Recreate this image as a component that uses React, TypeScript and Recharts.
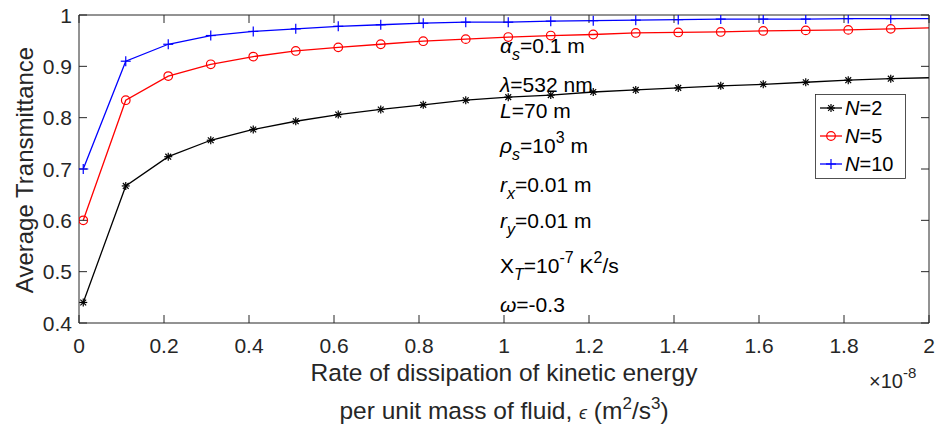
import { LineChart, Line, XAxis, YAxis, Legend } from 'recharts';

const AX = '#262626';

// rate of dissipation, x 1e-8 m^2/s^3
const epsilon = [
  0.01, 0.11, 0.21, 0.31, 0.41, 0.51, 0.61, 0.71, 0.81, 0.91, 1.01,
  1.11, 1.21, 1.31, 1.41, 1.51, 1.61, 1.71, 1.81, 1.91, 2.01,
];
const nTwo = [
  0.44, 0.667, 0.724, 0.756, 0.777, 0.793, 0.806, 0.816, 0.825, 0.834, 0.84,
  0.844, 0.85, 0.854, 0.858, 0.862, 0.865, 0.869, 0.873, 0.876, 0.878,
];
const nFive = [
  0.6, 0.834, 0.881, 0.904, 0.919, 0.93, 0.937, 0.943, 0.949, 0.953, 0.957,
  0.96, 0.962, 0.965, 0.966, 0.967, 0.969, 0.97, 0.971, 0.973, 0.975,
];
const nTen = [
  0.7, 0.91, 0.943, 0.96, 0.968, 0.973, 0.978, 0.981, 0.984, 0.986, 0.986,
  0.988, 0.989, 0.99, 0.991, 0.992, 0.992, 0.992, 0.993, 0.993, 0.993,
];
const xTicks = [0, 0.2, 0.4, 0.6, 0.8, 1, 1.2, 1.4, 1.6, 1.8, 2];
const yTicks = [0.4, 0.5, 0.6, 0.7, 0.8, 0.9, 1];

const data = epsilon.map((e, i) => ({ e, n2: nTwo[i], n5: nFive[i], n10: nTen[i] }));

const series = [
  { key: 'n2', label: '2', color: '#000000', marker: 'star' },
  { key: 'n5', label: '5', color: '#ff0000', marker: 'circle' },
  { key: 'n10', label: '10', color: '#0000ff', marker: 'plus' },
];

function Marker({ kind, cx, cy, color }: any) {
  if (kind === 'circle') {
    return <circle cx={cx} cy={cy} r={4.3} fill="none" stroke={color} strokeWidth={1.2} />;
  }
  if (kind === 'plus') {
    return (
      <g stroke={color} strokeWidth={1.2}>
        <line x1={cx - 5} x2={cx + 5} y1={cy} y2={cy} />
        <line x1={cx} x2={cx} y1={cy - 5} y2={cy + 5} />
      </g>
    );
  }
  const d = 4;
  const k = 2.9;
  return (
    <g stroke={color} strokeWidth={1.2}>
      <line x1={cx - d} x2={cx + d} y1={cy} y2={cy} />
      <line x1={cx} x2={cx} y1={cy - d} y2={cy + d} />
      <line x1={cx - k} x2={cx + k} y1={cy - k} y2={cy + k} />
      <line x1={cx - k} x2={cx + k} y1={cy + k} y2={cy - k} />
    </g>
  );
}

// ticks point into the plot (tickSize -8), so the label anchor sits 8px inside
const BottomTick = ({ x, y, payload }: any) => (
  <text x={x} y={y + 38} textAnchor="middle" fontSize={21} fill={AX}>
    {payload.value}
  </text>
);
const LeftTick = ({ x, y, payload }: any) => (
  <text x={x - 15} y={y + 7.5} textAnchor="end" fontSize={21} fill={AX}>
    {payload.value}
  </text>
);
const NoLabel = () => <g />;

const tickStroke = { stroke: AX, strokeWidth: 1 };

const renderLegend = () => (
  <svg width={92} height={86} style={{ display: 'block' }}>
    <rect x={0.5} y={0.5} width={90} height={84} fill="#fff" stroke={AX} strokeWidth={0.8} />
    {series.map((s, i) => {
      const cy = 14 + i * 28;
      return (
        <g key={s.key}>
          <line x1={5} x2={27} y1={cy} y2={cy} stroke={s.color} strokeWidth={1.3} />
          <Marker kind={s.marker} cx={16} cy={cy} color={s.color} />
          <text x={30} y={cy + 7} fontSize={20} fill="#000">
            <tspan fontStyle="italic">N</tspan>={s.label}
          </text>
        </g>
      );
    })}
  </svg>
);

export default function App() {
  return (
    <div
      style={{
        position: 'absolute',
        left: 0,
        top: 0,
        width: 935,
        height: 430,
        background: '#fff',
        fontFamily: '"Liberation Sans", Arial, sans-serif',
      }}
    >
      <LineChart
        width={935}
        height={430}
        data={data}
        margin={{ top: 14, right: 5, bottom: 106, left: 78 }}
      >
        <XAxis
          xAxisId="b"
          dataKey="e"
          type="number"
          domain={[0, 2]}
          ticks={xTicks}
          interval={0}
          allowDataOverflow
          height={1}
          tickSize={-8}
          tickMargin={0}
          tickLine={tickStroke}
          axisLine={tickStroke}
          tick={BottomTick}
        />
        <XAxis
          xAxisId="t"
          dataKey="e"
          orientation="top"
          type="number"
          domain={[0, 2]}
          ticks={xTicks}
          interval={0}
          allowDataOverflow
          height={1}
          tickSize={-8}
          tickMargin={0}
          tickLine={tickStroke}
          axisLine={tickStroke}
          tick={NoLabel}
        />
        <YAxis
          yAxisId="l"
          type="number"
          domain={[0.4, 1]}
          ticks={yTicks}
          interval={0}
          allowDataOverflow
          width={1}
          tickSize={-8}
          tickMargin={0}
          tickLine={tickStroke}
          axisLine={tickStroke}
          tick={LeftTick}
        />
        <YAxis
          yAxisId="r"
          orientation="right"
          type="number"
          domain={[0.4, 1]}
          ticks={yTicks}
          interval={0}
          allowDataOverflow
          width={1}
          tickSize={-8}
          tickMargin={0}
          tickLine={tickStroke}
          axisLine={tickStroke}
          tick={NoLabel}
        />
        {/* invisible copy so the box axes (top / right) get a scale */}
        <Line
          xAxisId="t"
          yAxisId="r"
          dataKey="n2"
          stroke="none"
          dot={false}
          activeDot={false}
          legendType="none"
          isAnimationActive={false}
        />
        {series.map((s) => (
          <Line
            key={s.key}
            xAxisId="b"
            yAxisId="l"
            dataKey={s.key}
            stroke={s.color}
            strokeWidth={1.3}
            type="linear"
            isAnimationActive={false}
            dot={(p: any) =>
              p.payload.e > 2 ? (
                <g key={`d-${s.key}-${p.index}`} />
              ) : (
                <Marker key={`d-${s.key}-${p.index}`} kind={s.marker} cx={p.cx} cy={p.cy} color={s.color} />
              )
            }
          />
        ))}
        <Legend
          layout="horizontal"
          verticalAlign="middle"
          align="center"
          content={renderLegend}
          wrapperStyle={{ left: 815, top: 94, width: 92, height: 86 }}
        />
      </LineChart>
      <svg
        width={935}
        height={430}
        style={{ position: 'absolute', left: 0, top: 0, pointerEvents: 'none' }}
        fontFamily='"Liberation Sans", Arial, sans-serif'
        fill={AX}
      >
        <text x={33} y={170} fontSize={24} textAnchor="middle" transform="rotate(-90 33 170)">
          Average Transmittance
        </text>
        <text x={504} y={381} fontSize={24.5} textAnchor="middle">
          Rate of dissipation of kinetic energy
        </text>
        <text x={504} y={419} fontSize={24.5} textAnchor="middle">
          per unit mass of fluid,{'  '}
          <tspan fontStyle="italic" fontSize={18}>ϵ</tspan> (m
          <tspan dy={-10} fontSize={17}>2</tspan>
          <tspan dy={10}>/s</tspan>
          <tspan dy={-10} fontSize={17}>3</tspan>
          <tspan dy={10}>)</tspan>
        </text>
        <text x={869} y={388} fontSize={20}>
          ×10<tspan dy={-10} fontSize={15}>-8</tspan>
        </text>
        <g fontSize={21} fill="#000">
          <text x={500} y={53}>
            <tspan fontStyle="italic">α</tspan>
            <tspan dy={7} fontSize={16} fontStyle="italic">s</tspan>
            <tspan dy={-7}>=0.1 m</tspan>
          </text>
          <text x={500} y={92}>
            <tspan fontStyle="italic">λ</tspan>=532 nm
          </text>
          <text x={500} y={118}>
            <tspan fontStyle="italic">L</tspan>=70 m
          </text>
          <text x={500} y={153}>
            <tspan fontStyle="italic">ρ</tspan>
            <tspan dy={7} fontSize={16} fontStyle="italic">s</tspan>
            <tspan dy={-7}>=10</tspan>
            <tspan dy={-10} fontSize={16}>3</tspan>
            <tspan dy={10}> m</tspan>
          </text>
          <text x={500} y={192}>
            <tspan fontStyle="italic">r</tspan>
            <tspan dy={7} fontSize={16} fontStyle="italic">x</tspan>
            <tspan dy={-7}>=0.01 m</tspan>
          </text>
          <text x={500} y={228}>
            <tspan fontStyle="italic">r</tspan>
            <tspan dy={7} fontSize={16} fontStyle="italic">y</tspan>
            <tspan dy={-7}>=0.01 m</tspan>
          </text>
          <text x={500} y={273}>
            X<tspan dy={7} fontSize={16} fontStyle="italic">T</tspan>
            <tspan dy={-7}>=10</tspan>
            <tspan dy={-10} fontSize={16}>-7</tspan>
            <tspan dy={10}> K</tspan>
            <tspan dy={-10} fontSize={16}>2</tspan>
            <tspan dy={10}>/s</tspan>
          </text>
          <text x={500} y={312}>
            <tspan fontStyle="italic">ω</tspan>=-0.3
          </text>
        </g>
      </svg>
    </div>
  );
}
